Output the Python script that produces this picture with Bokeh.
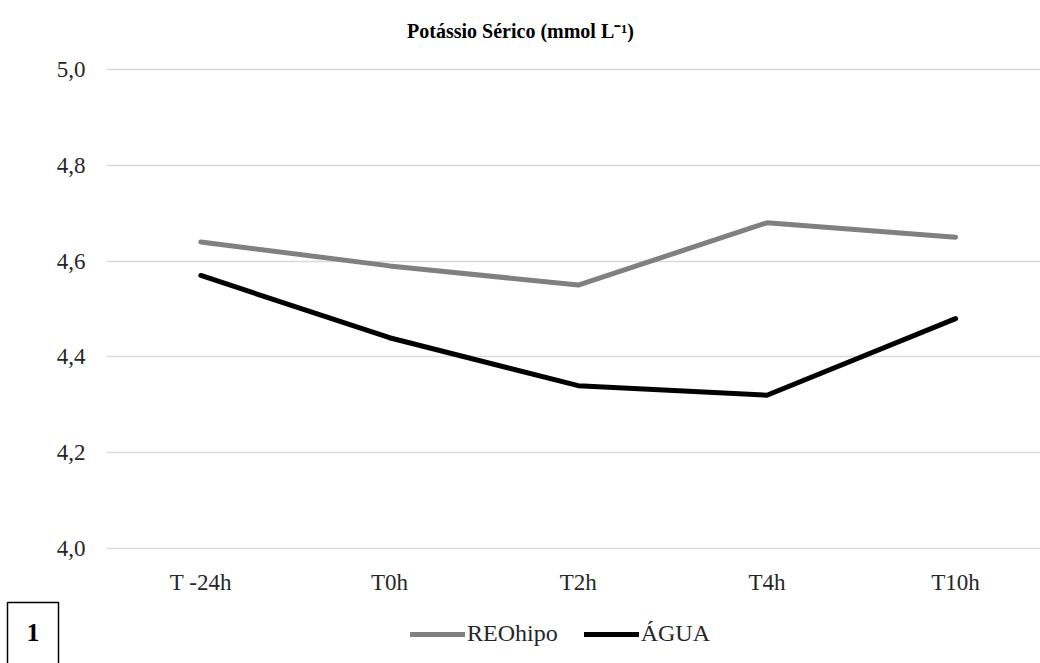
from bokeh.plotting import figure
from bokeh.layouts import column
from bokeh.models import Range1d, Legend, LegendItem, Label, FixedTicker
from bokeh.embed import file_html
from bokeh.resources import INLINE

categories = ["T -24h", "T0h", "T2h", "T4h", "T10h"]
reohipo = [4.64, 4.59, 4.55, 4.68, 4.65]
agua = [4.57, 4.44, 4.34, 4.32, 4.48]
y_ticks = [4.0, 4.2, 4.4, 4.6, 4.8, 5.0]
y_labels = ["4,0", "4,2", "4,4", "4,6", "4,8", "5,0"]
series_names = ["REOhipo", "ÁGUA"]
series_colors = ["#808080", "#000000"]
title_text = "Potássio Sérico (mmol L⁻¹)"

FONT = "Liberation Serif"
xs = list(range(len(categories)))
px = 1.0 / 479  # one pixel in data units (0.2 units = ~96 px)

p = figure(width=1040, height=600, output_backend="svg", toolbar_location=None,
           x_range=Range1d(-0.5, 4.45), y_range=Range1d(4.0 - px, 5.0 + 69 * px),
           min_border_left=106, min_border_right=0, min_border_top=0,
           min_border_bottom=51)
p.outline_line_color = None

p.line(xs, reohipo, line_color=series_colors[0], line_width=5, line_join="round", line_cap="round")
p.line(xs, agua, line_color=series_colors[1], line_width=5, line_join="round", line_cap="round")

p.xgrid.grid_line_color = None
p.ygrid.grid_line_color = "#d9d9d9"
p.ygrid.grid_line_width = 1.5
p.yaxis.ticker = FixedTicker(ticks=y_ticks)
p.yaxis.major_label_overrides = {t: l for t, l in zip(y_ticks, y_labels)}
p.xaxis.ticker = FixedTicker(ticks=xs)
p.xaxis.major_label_overrides = {i: c for i, c in enumerate(categories)}
for ax in (p.xaxis, p.yaxis):
    ax.axis_line_color = None
    ax.major_tick_line_color = None
    ax.minor_tick_line_color = None
    ax.major_label_text_font = FONT
    ax.major_label_text_font_size = "23px"
    ax.major_label_text_color = "#262626"
p.xaxis.major_label_standoff = 14
p.yaxis.major_label_standoff = 15

title = Label(x=414, y=519, x_units="screen", y_units="screen", text=title_text,
              text_font=FONT, text_font_size="20px", text_font_style="bold",
              text_color="#000000", text_align="center", text_baseline="middle")
p.add_layout(title)

# bottom strip with legend and panel number box
s = figure(width=1040, height=63, output_backend="svg", toolbar_location=None,
           x_range=Range1d(0, 1), y_range=Range1d(0, 1),
           x_axis_location=None, y_axis_location=None,
           min_border_left=0, min_border_right=0, min_border_top=0, min_border_bottom=0)
s.outline_line_color = None
s.xgrid.grid_line_color = None
s.ygrid.grid_line_color = None

# frame offset of the strip (frames may be aligned with the main plot)
if "frame_align" in s.properties():
    s.frame_align = False
    p.frame_align = False
    dx = 0
else:
    dx = -106

items = []
for name, col, vals in zip(series_names, series_colors, [reohipo, agua]):
    # drawn outside the strip's visible range; used only for the legend key
    r = s.line(xs, vals, line_color=col, line_width=5, line_cap="round")
    items.append(LegendItem(label=name, renderers=[r]))

legend = Legend(items=items, orientation="horizontal", location=(410 + dx, 16),
                label_text_font=FONT, label_text_font_size="24px",
                label_text_color="#262626", glyph_width=55, glyph_height=22,
                spacing=26, label_standoff=2, border_line_color=None,
                background_fill_alpha=0, padding=0, margin=0)
s.add_layout(legend, "center")

box = Label(x=7 + dx, y=-3, x_units="screen", y_units="screen", text="1",
            text_font=FONT, text_font_size="26px", text_font_style="bold",
            text_color="#000000",
            border_line_color="black", border_line_width=1.5,
            background_fill_color="white",
            padding=dict(left=19, right=19, top=21, bottom=26))
s.add_layout(box)

layout = column(p, s, spacing=0)
open("out.html", "w").write(file_html(layout, INLINE))
